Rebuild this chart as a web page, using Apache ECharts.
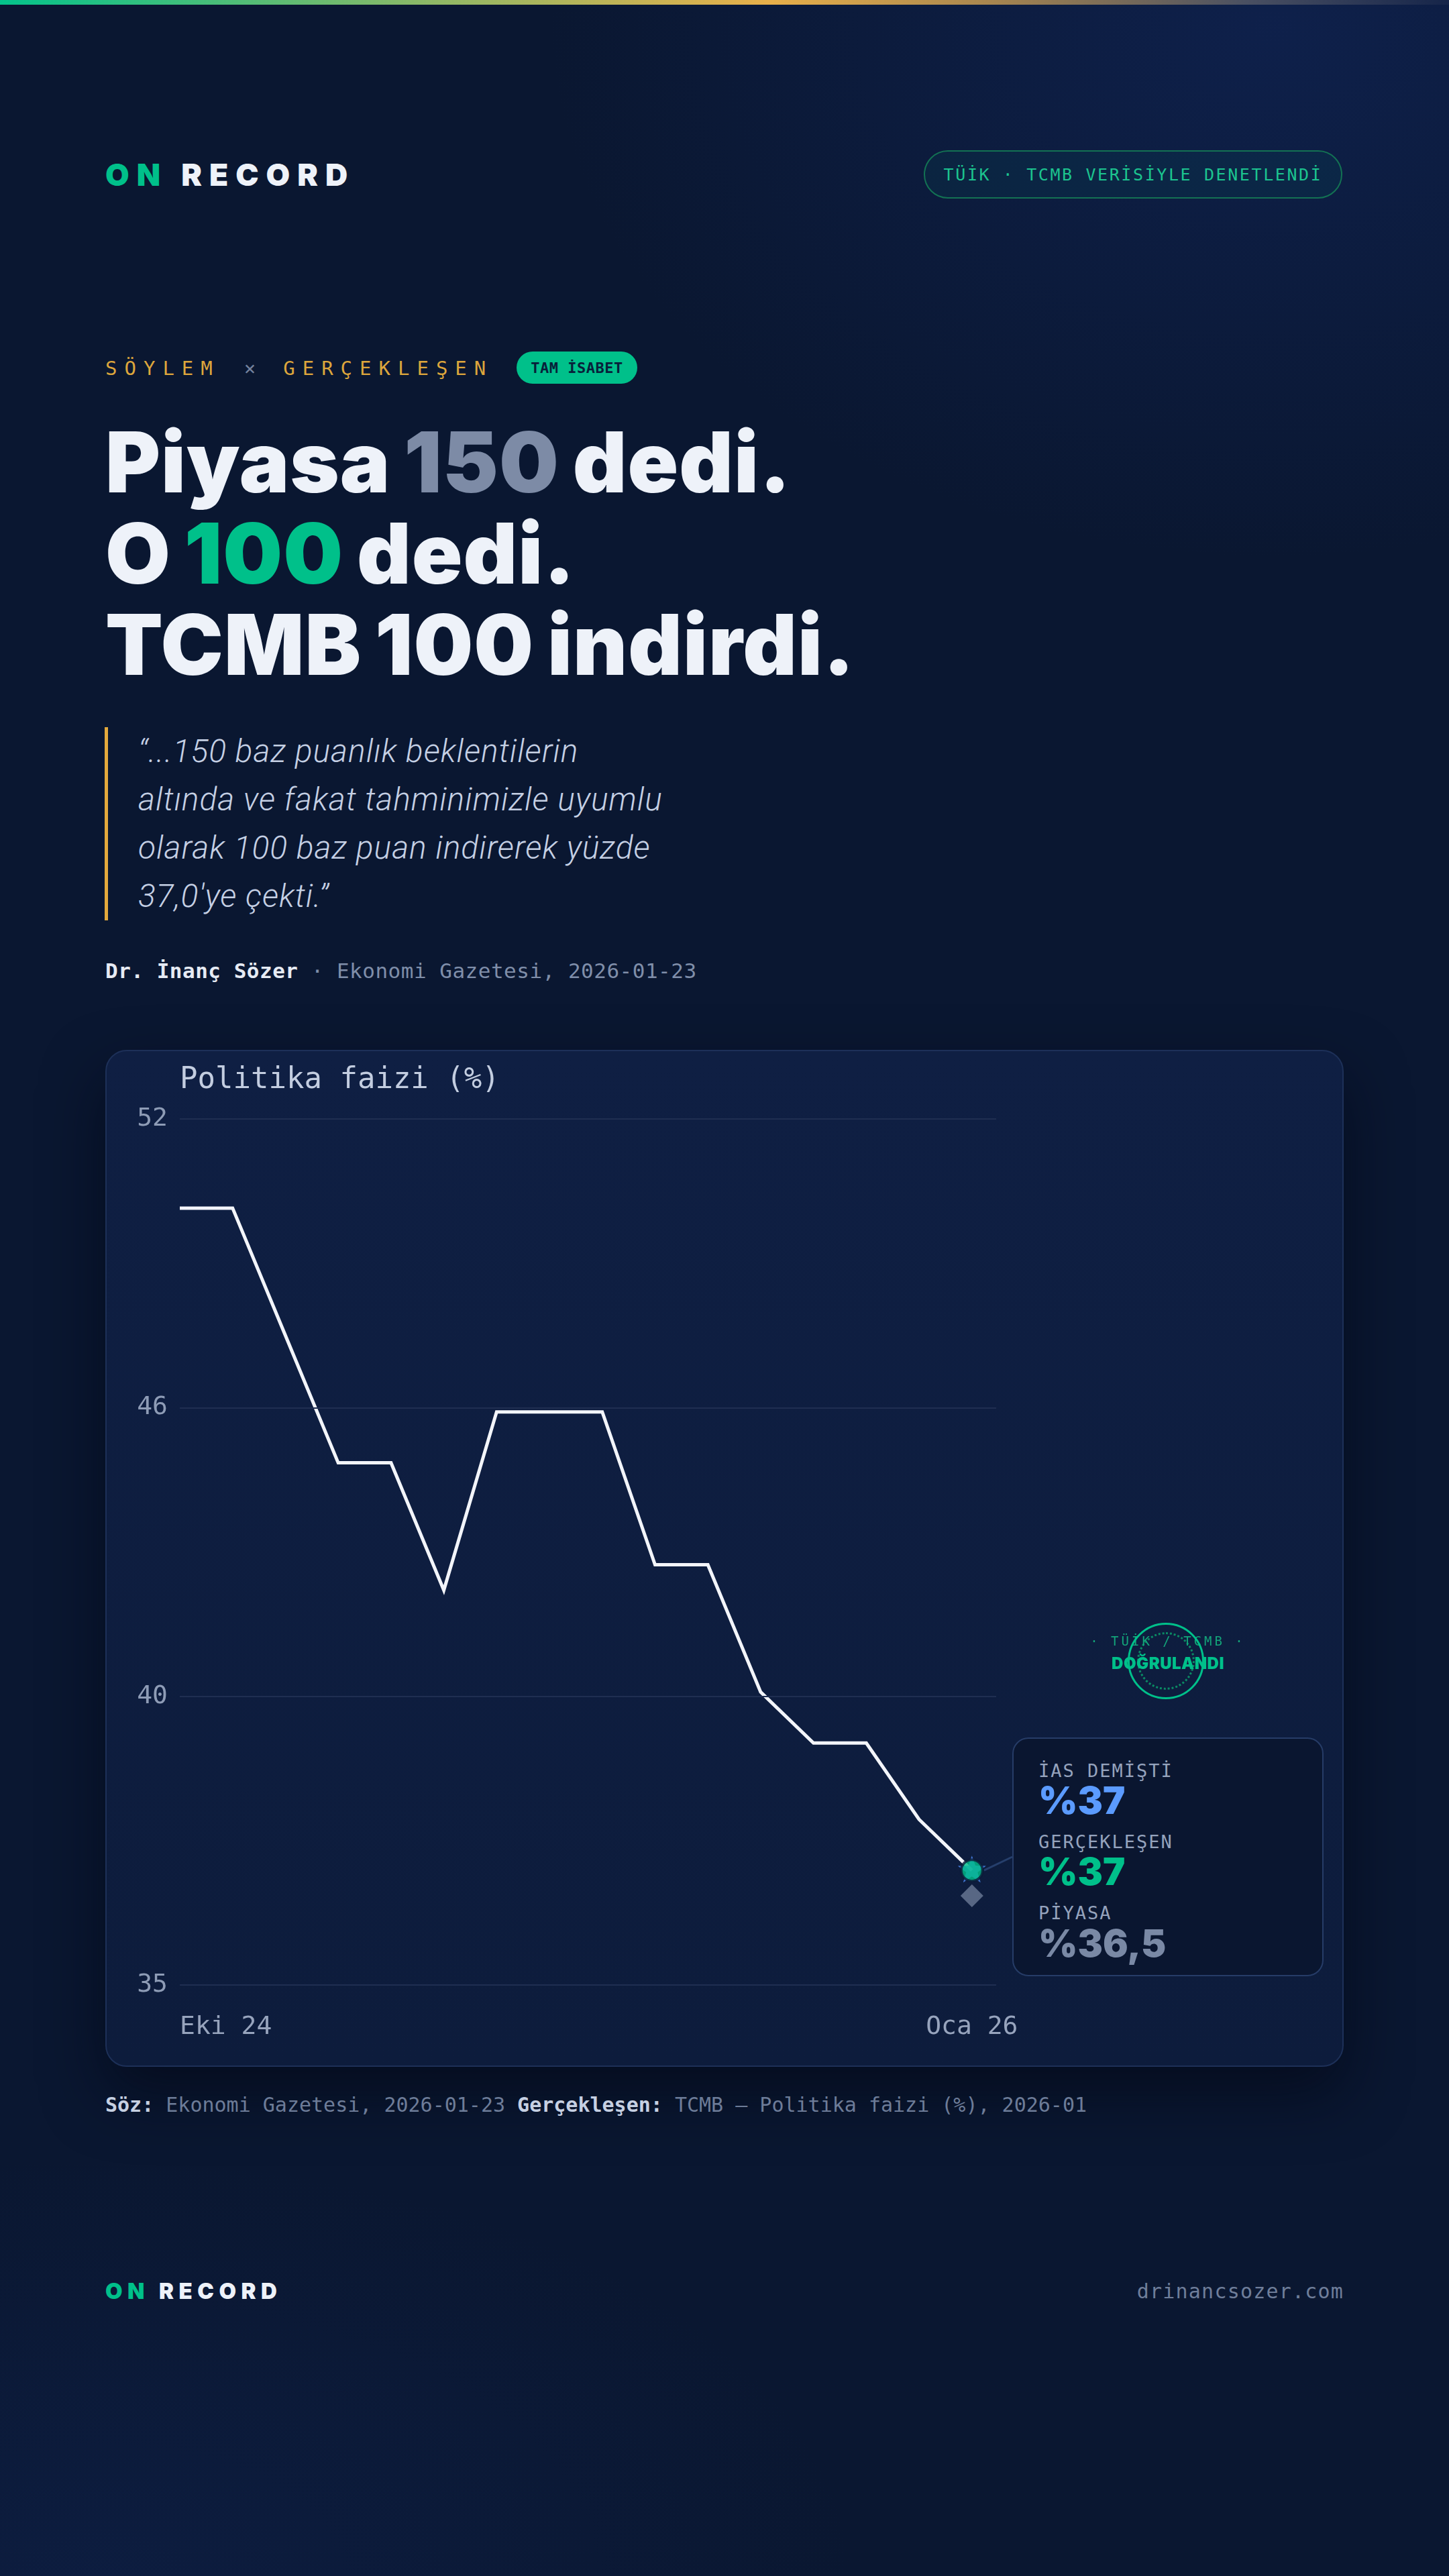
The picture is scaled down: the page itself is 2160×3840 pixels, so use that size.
<!DOCTYPE html>
<html lang="tr">
<head>
<meta charset="utf-8">
<script src="https://cdn.jsdelivr.net/npm/echarts@6/dist/echarts.min.js"></script>
<style>
html,body{margin:0;padding:0;width:2160px;height:3840px;overflow:hidden;}
body{position:relative;background:#0a1731;
  background-image:
    radial-gradient(ellipse 1500px 1100px at 1900px 40px, rgba(18,40,96,0.55), rgba(18,40,96,0) 72%),
    radial-gradient(ellipse 1600px 900px at 150px 3850px, rgba(16,36,82,0.45), rgba(16,36,82,0) 70%);
  font-family:Inter, "Noto Sans", sans-serif;}
.abs{position:absolute;white-space:nowrap;line-height:1;}
.mono{font-family:"DejaVu Sans Mono", monospace;}
#topbar{position:absolute;left:0;top:0;width:2160px;height:7px;
  background:linear-gradient(90deg,#04c38b 0%,#8fb866 30%,#e8b04a 53%,#a9874f 68%,#4a5062 86%,rgba(40,52,84,0.3) 100%);}
.logo{font-weight:900;color:#eef2f9;}
.logo .on{color:#00c08a;}
#badge{position:absolute;left:1377px;top:224px;width:620px;height:68px;border:2px solid #137253;border-radius:36px;
  background:rgba(0,150,110,0.08);display:flex;align-items:center;justify-content:center;
  font-family:"DejaVu Sans Mono",monospace;font-size:25px;letter-spacing:2.6px;color:#1cc48f;}
#kicker{left:157px;top:535px;font-size:29px;color:#dda63c;letter-spacing:11px;}
#kicker .x{color:#74829d;margin:0 30px 0 36px;}
#pill{position:absolute;left:770px;top:524px;width:180px;height:48px;border-radius:24px;background:#00c08a;
  display:flex;align-items:center;justify-content:center;font-family:"DejaVu Sans Mono",monospace;font-weight:bold;font-size:22px;color:#08203a;letter-spacing:0.5px;}
#headline{position:absolute;left:157px;top:621px;font-family:Inter,sans-serif;font-weight:900;font-size:125px;line-height:136px;color:#eef2f9;letter-spacing:1px;word-spacing:-6px;white-space:nowrap;}
#headline .g{color:#7d8ba6;} #headline .gr{color:#00c08a;}
#qbar{position:absolute;left:156px;top:1084px;width:5px;height:288px;background:#e3a93c;}
#quote{position:absolute;left:206px;top:1084px;font-family:Roboto,sans-serif;font-style:italic;font-weight:300;font-size:48px;line-height:72px;color:#c5d0e4;letter-spacing:1px;white-space:nowrap;}
#attr{left:157px;top:1432px;font-size:31px;color:#7f8ea9;letter-spacing:0.5px;}
#attr b{color:#e6ebf4;font-weight:bold;}
#card{position:absolute;left:157px;top:1565px;width:1842px;height:1512px;border:2px solid #1d3058;border-radius:32px;
  background:linear-gradient(180deg,#0f1f43 0%,#0d1c3c 100%);box-shadow:0 40px 90px rgba(3,8,22,0.65);}
#chart{position:absolute;left:157px;top:1565px;width:1846px;height:1516px;}
#caption{left:157px;top:3123px;font-size:30px;color:#6d7c98;}
#caption b{color:#c6d0e2;font-weight:bold;}
#flogo{left:157px;top:3399px;font-size:33px;letter-spacing:7.5px;}
#site{right:157px;top:3401px;font-size:30px;color:#6f7e9a;letter-spacing:1.2px;}
#annot{position:absolute;left:1509px;top:2590px;width:460px;height:352px;border:2px solid #263c67;border-radius:24px;background:#0a1630;}
.alab{position:absolute;left:37px;font-family:"DejaVu Sans Mono",monospace;font-size:27px;letter-spacing:2px;color:#95a3bd;line-height:1;white-space:nowrap;}
.aval{position:absolute;left:37px;font-family:Inter,sans-serif;font-weight:900;font-size:56px;line-height:1;letter-spacing:0px;white-space:nowrap;}
#ring{position:absolute;left:1681px;top:2419px;width:114px;height:114px;box-sizing:border-box;border:3px solid #00c08a;border-radius:50%;}
#ring2{position:absolute;left:1695px;top:2433px;width:86px;height:86px;box-sizing:border-box;border:3px dotted #0b8a64;border-radius:50%;}
#stamp1{left:1741px;top:2437px;transform:translateX(-50%);font-size:19px;letter-spacing:4px;color:#13a57a;}
#stamp2{left:1741px;top:2468px;transform:translateX(-50%);font-size:24px;font-weight:900;color:#00c08a;letter-spacing:0.5px;}
</style>
</head>
<body>
<div id="topbar"></div>
<div class="abs logo" id="hlogo" style="left:157px;top:237px;font-size:46px;letter-spacing:11px;"><span class="on">ON</span> RECORD</div>
<div id="badge">TÜİK · TCMB VERİSİYLE DENETLENDİ</div>

<div class="abs mono" id="kicker">SÖYLEM<span class="x">×</span>GERÇEKLEŞEN</div>
<div id="pill">TAM İSABET</div>

<div id="headline">Piyasa <span class="g">150</span> dedi.<br>O <span class="gr">100</span> dedi.<br>TCMB 100 indirdi.</div>

<div id="qbar"></div>
<div id="quote">“...150 baz puanlık beklentilerin<br>altında ve fakat tahminimizle uyumlu<br>olarak 100 baz puan indirerek yüzde<br>37,0'ye çekti.”</div>
<div class="abs mono" id="attr"><b>Dr. İnanç Sözer</b> · Ekonomi Gazetesi, 2026-01-23</div>

<div id="card"></div>
<div id="chart"></div>

<div id="ring2"></div>
<div class="abs mono" id="stamp1">· TÜİK / TCMB ·</div>
<div class="abs" id="stamp2">DOĞRULANDI</div>
<div id="ring"></div>

<div id="annot">
  <div class="alab" style="top:34px;">İAS DEMİŞTİ</div>
  <div class="aval" style="top:64px;color:#5b9bff;">%37</div>
  <div class="alab" style="top:140px;">GERÇEKLEŞEN</div>
  <div class="aval" style="top:170px;color:#00c08a;">%37</div>
  <div class="alab" style="top:246px;">PİYASA</div>
  <div class="aval" style="top:277px;color:#7a89a5;">%36,5</div>
</div>

<div class="abs mono" id="caption"><b>Söz:</b> Ekonomi Gazetesi, 2026-01-23 <b>Gerçekleşen:</b> TCMB — Politika faizi (%), 2026-01</div>

<div class="abs logo" id="flogo"><span class="on">ON</span> RECORD</div>
<div class="abs mono" id="site">drinancsozer.com</div>

<script>
// ---- data ----
const months = ['Eki 24','Kas 24','Ara 24','Oca 25','Şub 25','Mar 25','Nis 25','May 25','Haz 25','Tem 25','Ağu 25','Eyl 25','Eki 25','Kas 25','Ara 25','Oca 26'];
const policyRate = [50, 50, 47.5, 45, 45, 42.5, 46, 46, 46, 43, 43, 40.5, 39.5, 39.5, 38, 37];
const iasForecast = [37];
const actualRate = [37];
const marketExpectation = [36.5];
const yTickValues = [34.75, 40.4167, 46.0833, 51.75];
const yTickLabels = ['35', '40', '46', '52'];
const xTickLabels = ['Eki 24', 'Oca 26'];

const lastIdx = months.length - 1;
const xTickValues = [0, lastIdx];
const starPath = 'path://M0,-22L5.29,-7.28L20.92,-6.8L8.56,2.78L12.93,17.8L0,9L-12.93,17.8L-8.56,2.78L-20.92,-6.8L-5.29,-7.28Z';
const mono = 'DejaVu Sans Mono';

const chart = echarts.init(document.getElementById('chart'), null, {renderer: 'canvas'});
const option = {
  backgroundColor: 'transparent',
  animation: false,
  grid: {left: 111, right: 518, top: 103, bottom: 122},
  xAxis: {
    type: 'value', min: 0, max: 15.46,
    axisLine: {show: false}, axisTick: {show: false}, splitLine: {show: false},
    axisLabel: {
      customValues: xTickValues,
      formatter: function (v) { const k = xTickValues.indexOf(Math.round(v)); return k >= 0 ? xTickLabels[k] : ''; },
      alignMinLabel: 'left', showMinLabel: true, showMaxLabel: true,
      color: '#97a4bd', fontFamily: mono, fontSize: 38, margin: 44
    }
  },
  yAxis: {
    type: 'value', min: 34.75, max: 51.75,
    axisLine: {show: false}, axisTick: {show: false, customValues: yTickValues}, splitLine: {show: false},
    axisLabel: {
      customValues: yTickValues,
      formatter: function (v) {
        let best = 0;
        yTickValues.forEach(function (t, i) { if (Math.abs(t - v) < Math.abs(yTickValues[best] - v)) best = i; });
        return yTickLabels[best];
      },
      color: '#8e9cb6', fontFamily: mono, fontSize: 38, margin: 18
    }
  },
  series: [
    {
      type: 'line', name: 'Politika faizi',
      data: policyRate.map(function (v, i) { return [i, v]; }),
      showSymbol: false, symbol: 'none',
      lineStyle: {color: '#f3f5fa', width: 5, join: 'miter'},
      z: 3
    },
    {
      type: 'scatter', name: 'Piyasa',
      data: marketExpectation.map(function (v) { return [lastIdx, v]; }),
      symbol: 'diamond', symbolSize: [34, 34],
      itemStyle: {color: '#6b7a96'},
      z: 1,
      markLine: {
        silent: true, symbol: 'none', label: {show: false},
        lineStyle: {color: '#1f2e51', width: 2, type: 'solid'},
        data: yTickValues.map(function (v) { return {yAxis: v}; })
      }
    },
    {
      type: 'scatter', name: 'İAS',
      data: iasForecast.map(function (v) { return [lastIdx, v]; }),
      symbol: starPath, symbolSize: [42, 40], symbolOffset: [0, -2],
      itemStyle: {color: '#4e8ffc'},
      z: 5
    },
    {
      type: 'scatter', name: 'Gerçekleşen',
      data: actualRate.map(function (v) { return [lastIdx, v]; }),
      symbol: 'circle', symbolSize: 32,
      itemStyle: {color: '#00c08a', borderColor: '#0c1a38', borderWidth: 4},
      z: 6
    }
  ]
};
chart.setOption(option);

const pt = chart.convertToPixel({gridIndex: 0}, [lastIdx, actualRate[0]]);
chart.setOption({
  graphic: [
    {type: 'text', left: 111, top: 24, z: 10,
      style: {text: 'Politika faizi (%)', font: '44px "DejaVu Sans Mono"', fill: '#c3cde0'}},
    {type: 'line', z: 0,
      shape: {x1: pt[0] + 18, y1: pt[1], x2: 1509 - 157, y2: 2768 - 1565},
      style: {stroke: '#263f6c', lineWidth: 3}}
  ]
});
</script>
</body>
</html>
